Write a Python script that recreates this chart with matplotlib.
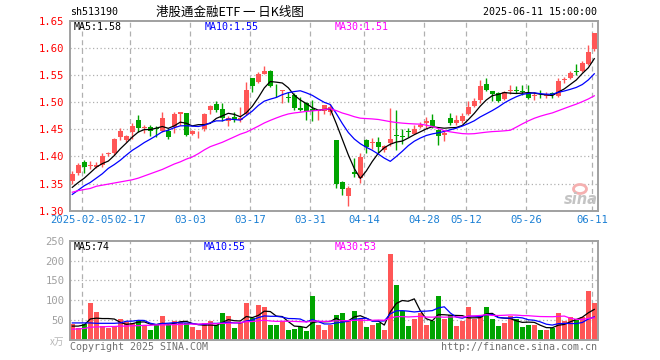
import numpy as np
import pandas as pd
import matplotlib
matplotlib.use('Agg')
import matplotlib.pyplot as plt
from matplotlib.patches import Ellipse

# ---------------- data ----------------
opens = [1.355, 1.3686, 1.3897, 1.383, 1.381, 1.3835, 1.404, 1.4055, 1.435, 1.430,
         1.4455, 1.4669, 1.452, 1.4535, 1.452, 1.447, 1.447, 1.4535, 1.479, 1.480,
         1.441, 1.446, 1.450, 1.4853, 1.4965, 1.4866, 1.465, 1.473, 1.467, 1.478,
         1.545, 1.5376, 1.5524, 1.5573, 1.517, 1.520, 1.509, 1.513, 1.489, 1.499,
         1.487, 1.483, 1.483, 1.482, 1.430, 1.3534, 1.3273, 1.3705, 1.3595, 1.430,
         1.424, 1.4265, 1.4118, 1.424, 1.4395, 1.4375, 1.4458, 1.4417, 1.455, 1.461,
         1.467, 1.4485, 1.4393, 1.470, 1.462, 1.466, 1.4783, 1.4924, 1.5046, 1.5334,
         1.520, 1.517, 1.5059, 1.520, 1.523, 1.521, 1.517, 1.511, 1.5132, 1.512,
         1.517, 1.5107, 1.5402, 1.5445, 1.5567, 1.5567, 1.570, 1.5978]
highs = [1.373, 1.388, 1.393, 1.391, 1.390, 1.4055, 1.409, 1.434, 1.452, 1.440,
         1.462, 1.476, 1.457, 1.457, 1.456, 1.482, 1.453, 1.482, 1.482, 1.480,
         1.449, 1.447, 1.4805, 1.4946, 1.502, 1.499, 1.4744, 1.482, 1.4915, 1.5364,
         1.545, 1.5548, 1.5665, 1.559, 1.533, 1.523, 1.519, 1.516, 1.5087, 1.501,
         1.5035, 1.486, 1.495, 1.497, 1.431, 1.3552, 1.3457, 1.3975, 1.4067, 1.433,
         1.434, 1.435, 1.421, 1.4885, 1.4855, 1.4497, 1.453, 1.4577, 1.464, 1.472,
         1.478, 1.450, 1.4472, 1.480, 1.4755, 1.480, 1.5016, 1.5077, 1.5414, 1.5445,
         1.5212, 1.5187, 1.520, 1.532, 1.529, 1.531, 1.532, 1.518, 1.523, 1.518,
         1.519, 1.5445, 1.5457, 1.558, 1.570, 1.575, 1.6058, 1.6272]
lows = [1.349, 1.366, 1.370, 1.376, 1.378, 1.381, 1.401, 1.4025, 1.431, 1.427,
        1.433, 1.4456, 1.443, 1.438, 1.436, 1.4455, 1.4326, 1.4437, 1.458, 1.438,
        1.4395, 1.434, 1.4474, 1.478, 1.482, 1.465, 1.4555, 1.4637, 1.4625, 1.4763,
        1.519, 1.5358, 1.551, 1.5284, 1.510, 1.499, 1.500, 1.4853, 1.4835, 1.468,
        1.465, 1.468, 1.478, 1.476, 1.341, 1.329, 1.309, 1.3626, 1.3515, 1.4067,
        1.4145, 1.4067, 1.409, 1.419, 1.4118, 1.422, 1.436, 1.4405, 1.452, 1.453,
        1.452, 1.421, 1.429, 1.4577, 1.4577, 1.4617, 1.4759, 1.4906, 1.4985, 1.5212,
        1.5016, 1.5004, 1.5046, 1.515, 1.517, 1.514, 1.5065, 1.5046, 1.5077, 1.5077,
        1.5077, 1.5089, 1.5353, 1.543, 1.5506, 1.5555, 1.5678, 1.5947]
closes = [1.3675, 1.3835, 1.381, 1.385, 1.384, 1.400, 1.407, 1.432, 1.447, 1.437,
          1.4555, 1.4529, 1.455, 1.447, 1.450, 1.4707, 1.436, 1.478, 1.481, 1.4394,
          1.447, 1.447, 1.478, 1.4928, 1.4853, 1.470, 1.471, 1.468, 1.471, 1.522,
          1.5296, 1.551, 1.5573, 1.530, 1.516, 1.522, 1.507, 1.4886, 1.486, 1.4835,
          1.4835, 1.485, 1.494, 1.491, 1.349, 1.3393, 1.3414, 1.368, 1.3994, 1.4178,
          1.427, 1.4167, 1.419, 1.4315, 1.438, 1.436, 1.445, 1.4497, 1.4577, 1.465,
          1.456, 1.4375, 1.4436, 1.462, 1.467, 1.4753, 1.4906, 1.5016, 1.5291, 1.523,
          1.515, 1.5028, 1.5187, 1.523, 1.520, 1.5187, 1.5077, 1.5138, 1.5126, 1.514,
          1.5126, 1.5396, 1.543, 1.5537, 1.555, 1.572, 1.5923, 1.6272]
volumes = [40, 30, 41, 94, 70, 35, 30, 35, 52, 45,
           43, 50, 38, 24, 38, 60, 38, 49, 45, 43,
           32, 24, 43, 47, 37, 69, 60, 30, 43, 94,
           55, 87, 84, 38, 37, 49, 24, 27, 33, 22,
           112, 38, 24, 37, 64, 69, 47, 74, 52, 32,
           37, 43, 24, 217, 139, 74, 34, 54, 68, 37,
           49, 112, 52, 62, 34, 47, 84, 52, 64, 83,
           52, 34, 42, 60, 54, 32, 37, 39, 24, 24,
           30, 69, 49, 57, 53, 59, 124, 92]

ma5_head = [1.343, 1.352, 1.360, 1.370]
ma10_head = [1.330, 1.338, 1.346, 1.352, 1.360, 1.368, 1.378, 1.385, 1.393]
ma30_head = [1.334, 1.337, 1.339, 1.341, 1.345, 1.347, 1.349, 1.351, 1.353, 1.355,
             1.357, 1.360, 1.364, 1.368, 1.372, 1.376, 1.381, 1.386, 1.390, 1.395,
             1.399, 1.405, 1.412, 1.418, 1.422, 1.426, 1.431, 1.436, 1.441]
vma5_head = [35, 35, 38, 53]
vma10_head = [43, 43, 43, 43, 42, 42, 42, 42, 43]
vma30_head = [27, 28, 29, 32, 33, 33, 34, 34, 35, 35, 36, 36, 37, 37, 38, 38, 38, 39,
              39, 40, 40, 40, 41, 41, 41, 42, 42, 43, 44]

date_labels = ['2025-02-05', '02-17', '03-03', '03-17', '03-31',
               '04-14', '04-28', '05-12', '05-26', '06-11']
date_idx = [2, 10, 20, 30, 40, 49, 59, 66, 76, 87]
price_ticks = [1.30, 1.35, 1.40, 1.45, 1.50, 1.55, 1.60, 1.65]
vol_ticks = [50, 100, 150, 200, 250]

title = '港股通金融ETF 一 日K线图'
code = 'sh513190'
stamp = '2025-06-11 15:00:00'
ma_price_txt = ['MA5:1.58', 'MA10:1.55', 'MA30:1.51']
ma_vol_txt = ['MA5:74', 'MA10:55', 'MA30:53']


def moving(vals, n, head):
    m = pd.Series(vals, dtype=float).rolling(n).mean().to_numpy()
    m[:n - 1] = head
    return m


# ---------------- style ----------------
RED = '#ff5656'
GREEN = '#00a400'
FRAME = '#a0a0a0'
GRID = '#b0b0b0'
MONO = 'DejaVu Sans Mono'
CJK = ['Noto Sans CJK SC', 'DejaVu Sans']
W, H = 660, 360

fig = plt.figure(figsize=(W / 100, H / 100), dpi=100)
fig.patch.set_facecolor('white')


def rect(l, t, r, b):
    return [l / W, 1 - b / H, (r - l) / W, (b - t) / H]


def ftext(x, y, s, **kw):
    kw.setdefault('va', 'center')
    kw.setdefault('family', MONO)
    kw.setdefault('fontsize', 7.2)
    fig.text(x / W, 1 - y / H, s, **kw)


ax = fig.add_axes(rect(70, 20.7, 598, 210.7))
axv = fig.add_axes(rect(70, 240.7, 598, 340))

n = len(closes)
x = np.arange(n)
o = np.array(opens); c = np.array(closes); hi = np.array(highs); lo = np.array(lows)
up = c >= o
cols = np.where(up, RED, GREEN)

XL = (-0.383, 87.62)
grid_x = np.array(date_idx) - 0.33

for a in (ax, axv):
    a.set_xlim(*XL)
    for s in a.spines.values():
        s.set_color(FRAME)
        s.set_linewidth(1.4)
    a.tick_params(length=0)
    for gx in grid_x:
        a.axvline(gx, color=GRID, lw=0.9, ls=(0, (4, 3)), zorder=0)

# price panel
ax.set_ylim(1.30, 1.65)
for yv in price_ticks[1:-1]:
    ax.axhline(yv, color=GRID, lw=0.9, ls=(0, (1, 2)), zorder=0)
ax.vlines(x, lo, hi, colors=cols, lw=1.0, zorder=2)
body = np.maximum(np.abs(c - o), 0.0012)
ax.bar(x, body, bottom=np.minimum(o, c), width=0.8, color=cols, linewidth=0, zorder=3)
ax.plot(x, moving(closes, 5, ma5_head), color='black', lw=0.9, zorder=4)
ax.plot(x, moving(closes, 10, ma10_head), color='#0000ff', lw=0.9, zorder=4)
ax.plot(x, moving(closes, 30, ma30_head), color='#ff00ff', lw=0.9, zorder=4)
ax.set_yticks(price_ticks)
ax.set_yticklabels([f'{t:.2f}' for t in price_ticks], color='red', family=MONO, fontsize=7.6)
ax.tick_params(axis='y', pad=4)
ax.set_xticks(grid_x)
ax.set_xticklabels(date_labels, color='#1a7fd4', family=MONO, fontsize=7.6)
ax.tick_params(axis='x', pad=3)

# volume panel
axv.set_ylim(0, 250)
for yv in vol_ticks[:-1]:
    axv.axhline(yv, color=GRID, lw=0.9, ls=(0, (1, 2)), zorder=0)
axv.bar(x, volumes, width=0.8, color=cols, linewidth=0, zorder=2)
axv.plot(x, moving(volumes, 5, vma5_head), color='black', lw=0.9, zorder=4)
axv.plot(x, moving(volumes, 10, vma10_head), color='#0000ff', lw=0.9, zorder=4)
axv.plot(x, moving(volumes, 30, vma30_head), color='#ff00ff', lw=0.9, zorder=4)
axv.set_yticks(vol_ticks)
axv.set_yticklabels([str(t) for t in vol_ticks], color='#a0a0a0', family=MONO, fontsize=7.6)
axv.tick_params(axis='y', pad=4)
axv.set_xticks([])

# header texts
ftext(70, 12, code, color='black')
ftext(230, 12, title, ha='center', family=CJK, fontsize=9, color='black')
ftext(597, 12, stamp, ha='right', color='black')
ftext(74, 27, ma_price_txt[0], color='black')
ftext(205, 27, ma_price_txt[1], color='#0000ff')
ftext(335, 27, ma_price_txt[2], color='#ff00ff')
ftext(74, 247, ma_vol_txt[0], color='black')
ftext(204, 247, ma_vol_txt[1], color='#0000ff')
ftext(335, 247, ma_vol_txt[2], color='#ff00ff')
ftext(64, 342, 'x万', ha='right', family=CJK, fontsize=7, color='#b8b8b8')
ftext(70, 347, 'Copyright 2025 SINA.COM', color='#707070')
ftext(597, 347, 'http://finance.sina.com.cn', ha='right', color='#707070')

# sina watermark
fig.patches.append(Ellipse((580 / W, 1 - 189 / H), 13 / W, 9 / H, transform=fig.transFigure,
                           facecolor='none', edgecolor='#f5b0b0', lw=2.0))
ftext(581, 200, 'sina', ha='center', family='DejaVu Sans', fontsize=10.5,
      style='italic', weight='bold', color='#c4c4c4')

fig.savefig('out.png', dpi=100, facecolor='white')
